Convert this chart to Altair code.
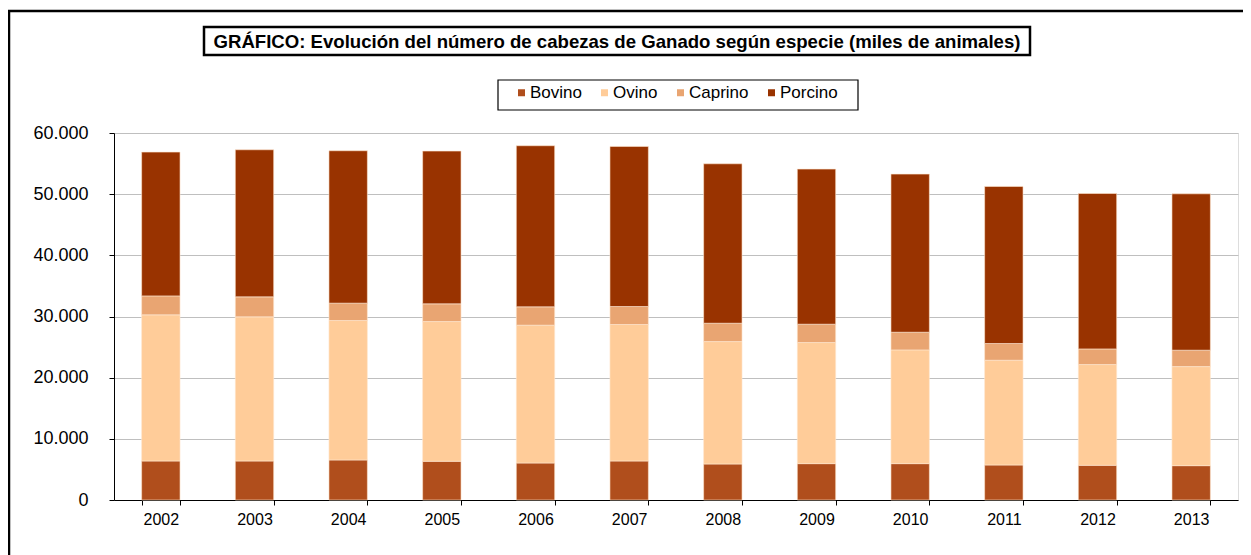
import altair as alt
import pandas as pd

years = ["2002", "2003", "2004", "2005", "2006", "2007",
         "2008", "2009", "2010", "2011", "2012", "2013"]
species = ["Bovino", "Ovino", "Caprino", "Porcino"]
bovino = [6380, 6380, 6545, 6325, 6050, 6380, 5890, 5945, 5945, 5725, 5670, 5615]
ovino = [23890, 23560, 22795, 22845, 22530, 22310, 20010, 19795, 18595, 17125, 16470, 16195]
caprino = [3100, 3270, 2840, 2900, 3000, 2940, 3000, 3000, 2890, 2730, 2560, 2680]
porcino = [23510, 24050, 24920, 24975, 26340, 26175, 26070, 25360, 25850, 25680, 25410, 25570]
colors = ["#B04E1C", "#FFCC99", "#E9A572", "#993300"]
TITLE = "GRÁFICO: Evolución del número de cabezas de Ganado según especie (miles de animales)"
FONT = "Liberation Sans"

series = {"Bovino": bovino, "Ovino": ovino, "Caprino": caprino, "Porcino": porcino}
rows = []
for si, sp in enumerate(species):
    for yi, yr in enumerate(years):
        rows.append({"year": yr, "species": sp, "value": series[sp][yi], "ord": si})
df = pd.DataFrame(rows)

W, H = 1124, 367

bars = alt.Chart(df).mark_bar(stroke="#FFE8D0", strokeWidth=0.6).encode(
    x=alt.X("year:N", sort=years, title=None,
            scale=alt.Scale(paddingInner=0.59, paddingOuter=0.295),
            axis=alt.Axis(labelAngle=0, labelFont=FONT, labelFontSize=16, labelColor="#000",
                          domainColor="#000", tickColor="#000", tickSize=5, tickBand="extent",
                          labelPadding=6, grid=False)),
    y=alt.Y("value:Q", stack="zero", title=None,
            scale=alt.Scale(domain=[0, 60000], nice=False),
            axis=alt.Axis(values=[0, 10000, 20000, 30000, 40000, 50000, 60000],
                          labelExpr="replace(format(datum.value, ','), ',', '.')",
                          labelFont=FONT, labelFontSize=18, labelColor="#000",
                          domainColor="#000", tickColor="#000", tickSize=5,
                          labelPadding=21, gridColor="#BFBFBF", gridWidth=1.2)),
    color=alt.Color("species:N", sort=species,
                    scale=alt.Scale(domain=species, range=colors),
                    legend=alt.Legend(title=None, orient="none", direction="horizontal",
                                      legendX=399, legendY=-49,
                                      symbolType="square", symbolSize=49,
                                      symbolStrokeWidth=0, labelFont=FONT,
                                      labelFontSize=17, labelColor="#000",
                                      columnPadding=14, labelOffset=0,
                                      padding=0)),
    order=alt.Order("ord:Q"),
)

one = pd.DataFrame({"a": [0]})
frame = alt.Chart(one).mark_rect(fill=None, stroke="#000", strokeWidth=2.5).encode(
    x=alt.value(-105), x2=alt.value(1200), y=alt.value(-122), y2=alt.value(600))
tbox = alt.Chart(one).mark_rect(fill="#FFFFFF", stroke="#000", strokeWidth=2.5).encode(
    x=alt.value(90), x2=alt.value(916), y=alt.value(-106), y2=alt.value(-78))
ttext = alt.Chart(one).mark_text(text=TITLE, font=FONT, fontSize=18.6, fontWeight="bold",
                                 color="#000", align="center", baseline="middle").encode(
    x=alt.value(503), y=alt.value(-91.5))
lbox = alt.Chart(one).mark_rect(fill="#FFFFFF", stroke="#000", strokeWidth=1.2).encode(
    x=alt.value(384), x2=alt.value(744), y=alt.value(-53), y2=alt.value(-23))

chart = alt.layer(frame, tbox, ttext, lbox, bars).properties(
    width=W, height=H,
    autosize=alt.AutoSizeParams(type="none"),
    padding={"left": 106, "top": 125, "right": 5, "bottom": 55},
).configure_view(stroke="#000", strokeWidth=1.2).configure(background="#FFFFFF")

chart.save("out.html", embed_options={"renderer": "svg", "actions": False})
